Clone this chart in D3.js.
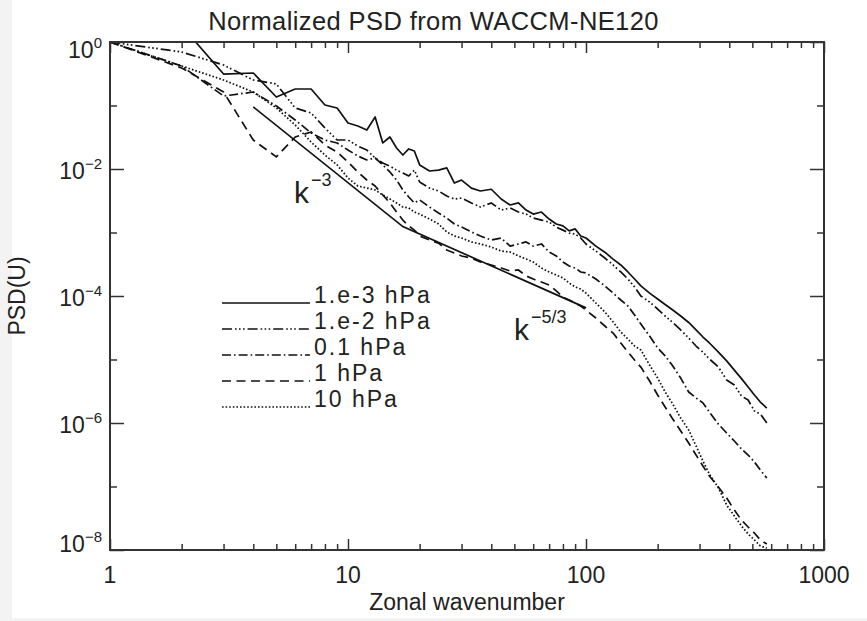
<!DOCTYPE html>
<html><head><meta charset="utf-8">
<script src="https://cdn.jsdelivr.net/npm/d3@7"></script>
<style>
html,body{margin:0;padding:0;background:#fff}
svg{display:block}
text{font-family:"Liberation Sans",Arial,sans-serif;fill:#222}
</style>
</head><body><svg id="chart" width="867" height="621"></svg>
<script>
// ---------------- data ----------------
const wavenumber = [1,2,3,4,5,6,7,8,9,10,11,12,13,14,15,16,17,18,19,20,
  22,24,26,28,30,33,36,40,44,48,52,56,60,65,70,75,80,85,90,95,100,
  110,120,130,140,150,160,170,185,200,215,230,250,270,290,310,330,
  360,390,420,450,480,510,540,575];

const psd_1e3hPa = [1,1.79,0.313,0.325,0.136,0.182,0.182,0.102,0.0914,0.053,0.0475,0.0411,0.0659,0.0257,0.0319,0.0214,0.0166,0.0207,0.0192,0.0116,
  0.0093,0.0096,0.0104,0.0060,0.0067,0.0050,0.0045,0.0048,0.00337,0.00271,0.00292,0.00226,0.00195,0.0021,0.00163,0.00136,0.00127,0.00106,0.00114,8.8e-4,8.2e-4,
  6.1e-4,4.9e-4,3.8e-4,3.08e-4,2.39e-4,1.85e-4,1.44e-4,1.11e-4,8.97e-5,7.35e-5,6.12e-5,4.84e-5,3.83e-5,2.92e-5,2.26e-5,1.82e-5,
  1.31e-5,9.5e-6,6.8e-6,5.0e-6,3.69e-6,2.76e-6,2.14e-6,1.72e-6];

const psd_1e2hPa = [1,0.696,0.434,0.252,0.218,0.0914,0.0762,0.0443,0.0286,0.0286,0.023,0.0199,0.0149,0.0124,0.0111,0.0096,0.00865,0.00776,0.0096,0.00624,
  0.00502,0.00451,0.00376,0.00337,0.00349,0.00292,0.00252,0.00292,0.00226,0.00243,0.0021,0.00195,0.00169,0.00157,0.00146,0.00122,0.00109,9.8e-4,9.5e-4,8.2e-4,6.6e-4,
  5.1e-4,3.96e-4,3.08e-4,2.39e-4,1.85e-4,1.39e-4,1.0e-4,8.05e-5,6.24e-5,4.84e-5,3.9e-5,2.92e-5,2.18e-5,1.63e-5,1.31e-5,1.02e-5,
  7.6e-6,4.75e-6,3.96e-6,2.66e-6,2.3e-6,1.55e-6,1.39e-6,1.0e-6];

const psd_01hPa = [1,0.419,0.141,0.163,0.0982,0.0591,0.0369,0.0286,0.0257,0.0199,0.016,0.0139,0.0149,0.0116,0.00898,0.00671,0.00467,0.00362,0.00292,0.00325,
  0.00252,0.00203,0.00169,0.00136,0.00122,0.00102,8.8e-4,7.6e-4,8.2e-4,6.1e-4,6.6e-4,7.1e-4,6.1e-4,6.6e-4,4.93e-4,4.27e-4,3.43e-4,2.97e-4,2.76e-4,2.39e-4,2.3e-4,
  1.85e-4,1.44e-4,1.11e-4,8.65e-5,6.96e-5,5.02e-5,3.62e-5,2.34e-5,1.52e-5,1.14e-5,8.2e-6,5.1e-6,3.08e-6,2.48e-6,2.07e-6,1.49e-6,
  9.6e-7,6.96e-7,5.2e-7,3.9e-7,3.13e-7,2.43e-7,1.82e-7,1.36e-7];

const psd_1hPa = [1,0.39,0.163,0.0286,0.0155,0.0319,0.0383,0.0239,0.0185,0.0129,0.00898,0.00671,0.0054,0.0039,0.00292,0.0021,0.00157,0.00127,0.00109,8.8e-4,
  7.6e-4,6.8e-4,5.3e-4,4.75e-4,4.27e-4,3.96e-4,3.43e-4,3.08e-4,2.76e-4,2.48e-4,2.57e-4,2.07e-4,1.85e-4,1.66e-4,1.49e-4,1.2e-4,9.6e-5,8.65e-5,7.76e-5,6.96e-5,6.0e-5,
  4.5e-5,3.37e-5,2.61e-5,1.82e-5,1.31e-5,9.8e-6,7.6e-6,4.58e-6,2.76e-6,1.79e-6,1.2e-6,7.5e-7,4.84e-7,3.13e-7,2.1e-7,1.46e-7,
  9.8e-8,6.6e-8,4.27e-8,2.96e-8,2.3e-8,1.85e-8,1.44e-8,1.24e-8];

const psd_10hPa = [1,0.419,0.252,0.163,0.0914,0.0493,0.0266,0.0166,0.0116,0.00721,0.0054,0.00502,0.00467,0.0039,0.00337,0.00292,0.00252,0.00243,0.0021,0.00195,
  0.00163,0.00136,0.00102,8.8e-4,8.2e-4,7.1e-4,6.6e-4,5.9e-4,5.1e-4,4.93e-4,4.27e-4,3.83e-4,3.43e-4,2.76e-4,2.39e-4,2.14e-4,1.92e-4,1.6e-4,1.39e-4,1.29e-4,1.11e-4,
  7.76e-5,5.6e-5,3.9e-5,2.71e-5,2.1e-5,1.63e-5,1.41e-5,8.2e-6,5.1e-6,3.08e-6,2.07e-6,1.2e-6,7.76e-7,4.35e-7,2.52e-7,1.57e-7,
  9.5e-8,5.1e-8,3.43e-8,2.39e-8,1.79e-8,1.44e-8,1.16e-8,1.07e-8];

const seriesLabels = ["1.e-3 hPa","1.e-2 hPa","0.1 hPa","1 hPa","10 hPa"];

// reference slope lines (k^-3 then k^-5/3)
const slopeK = [4,17,100];
const slopeV = [0.095,1.24e-3,6.5e-5];

const xTickValues = [1,10,100,1000];
const xTickLabels = ["1","10","100","1000"];
const yTickExponents = [0,-2,-4,-6,-8];
const yMinorValues = [1e-1,1e-3,1e-5,1e-7];

// ---------------- drawing ----------------
const svg = d3.select("#chart");
const L=110,R=824,T=42,B=550;
const x = d3.scaleLog().domain([1,1000]).range([L,R]);
const y = d3.scaleLog().domain([1e-8,1]).range([B,T]);

svg.append("rect").attr("width",867).attr("height",621).attr("fill","#f3f3f3");
svg.append("rect").attr("x",12).attr("y",0).attr("width",855).attr("height",618).attr("fill","#fff");

svg.append("defs").append("clipPath").attr("id","plotclip")
  .append("rect").attr("x",L).attr("y",T).attr("width",R-L).attr("height",B-T);

const series = [
  {values:psd_1e3hPa, dash:null},
  {values:psd_1e2hPa, dash:"10,3,1.6,2.4,1.6,2.4,1.6,3"},
  {values:psd_01hPa,  dash:"9,3,1.6,3"},
  {values:psd_1hPa,   dash:"9,5.5"},
  {values:psd_10hPa,  dash:"1.6,2"}
];

const line = d3.line().x(d=>x(d[0])).y(d=>y(d[1]));
const g = svg.append("g").attr("clip-path","url(#plotclip)");
series.forEach(s=>{
  g.append("path")
   .attr("d", line(wavenumber.map((k,i)=>[k,s.values[i]])))
   .attr("fill","none").attr("stroke","#111").attr("stroke-width",1.7)
   .attr("stroke-linejoin","round")
   .attr("stroke-dasharray", s.dash);
});
g.append("path")
  .attr("d", line(slopeK.map((k,i)=>[k,slopeV[i]])))
  .attr("fill","none").attr("stroke","#111").attr("stroke-width",1.7);

// axes
const axisColor="#333";
const minorX = x.ticks().filter(v=>xTickValues.indexOf(v)<0);
const yMajor = yTickExponents.map(e=>Math.pow(10,e));
function styleAxis(sel){
  sel.select(".domain").remove();
  sel.selectAll("line").attr("stroke",axisColor).attr("stroke-width",1.5);
}
svg.append("g").attr("transform",`translate(0,${B})`).call(d3.axisBottom(x).tickValues(xTickValues).tickSize(-11).tickFormat("")).call(styleAxis);
svg.append("g").attr("transform",`translate(0,${B})`).call(d3.axisBottom(x).tickValues(minorX).tickSize(-6).tickFormat("")).call(styleAxis);
svg.append("g").attr("transform",`translate(0,${T})`).call(d3.axisTop(x).tickValues(xTickValues).tickSize(-11).tickFormat("")).call(styleAxis);
svg.append("g").attr("transform",`translate(0,${T})`).call(d3.axisTop(x).tickValues(minorX).tickSize(-6).tickFormat("")).call(styleAxis);
svg.append("g").attr("transform",`translate(${L},0)`).call(d3.axisLeft(y).tickValues(yMajor).tickSize(-14).tickFormat("")).call(styleAxis);
svg.append("g").attr("transform",`translate(${L},0)`).call(d3.axisLeft(y).tickValues(yMinorValues).tickSize(-7).tickFormat("")).call(styleAxis);
svg.append("g").attr("transform",`translate(${R},0)`).call(d3.axisRight(y).tickValues(yMajor).tickSize(-14).tickFormat("")).call(styleAxis);
svg.append("g").attr("transform",`translate(${R},0)`).call(d3.axisRight(y).tickValues(yMinorValues).tickSize(-7).tickFormat("")).call(styleAxis);
svg.append("rect").attr("x",L).attr("y",T).attr("width",R-L).attr("height",B-T)
  .attr("fill","none").attr("stroke",axisColor).attr("stroke-width",2);

// x tick labels
xTickValues.forEach((v,i)=>{
  svg.append("text").attr("x",x(v)).attr("y",B+33).attr("text-anchor","middle")
    .attr("font-size",23).text(xTickLabels[i]);
});
// y tick labels
yTickExponents.forEach((e,i)=>{
  let dy = 9.5;
  if(i===0) dy = 16;
  if(i===yTickExponents.length-1) dy = 2;
  const t = svg.append("text").attr("x",L-8).attr("y",y(Math.pow(10,e))+dy)
    .attr("text-anchor","end").attr("font-size",23);
  t.append("tspan").text("10");
  t.append("tspan").attr("dy",-10).attr("font-size",15).text(e===0?"0":"\u2212"+(-e));
});

// titles
svg.append("text").attr("x",433.5).attr("y",30).attr("text-anchor","middle")
  .attr("font-size",25.5).attr("letter-spacing",0.4).text("Normalized PSD from WACCM-NE120");
svg.append("text").attr("x",(L+R)/2).attr("y",610).attr("text-anchor","middle")
  .attr("font-size",23).text("Zonal wavenumber");
svg.append("text").attr("transform",`translate(25,${(T+B)/2}) rotate(-90)`).attr("text-anchor","middle")
  .attr("font-size",23).text("PSD(U)");

// slope labels
function slopeLabel(xp,yp,exp){
  const t = svg.append("text").attr("x",xp).attr("y",yp).attr("font-size",30);
  t.append("tspan").text("k");
  t.append("tspan").attr("dx",2).attr("dy",-17).attr("font-size",18).text(exp);
}
slopeLabel(294,203,"\u22123");
slopeLabel(514,340,"\u22125/3");

// legend
seriesLabels.forEach((lab,i)=>{
  const yy = 303 + 26*i;
  svg.append("line").attr("x1",222).attr("x2",310).attr("y1",yy).attr("y2",yy)
    .attr("stroke","#111").attr("stroke-width",1.7).attr("stroke-dasharray",series[i].dash);
  svg.append("text").attr("x",314).attr("y",yy).attr("font-size",23)
    .attr("letter-spacing",2).text(lab);
});
</script></body></html>
